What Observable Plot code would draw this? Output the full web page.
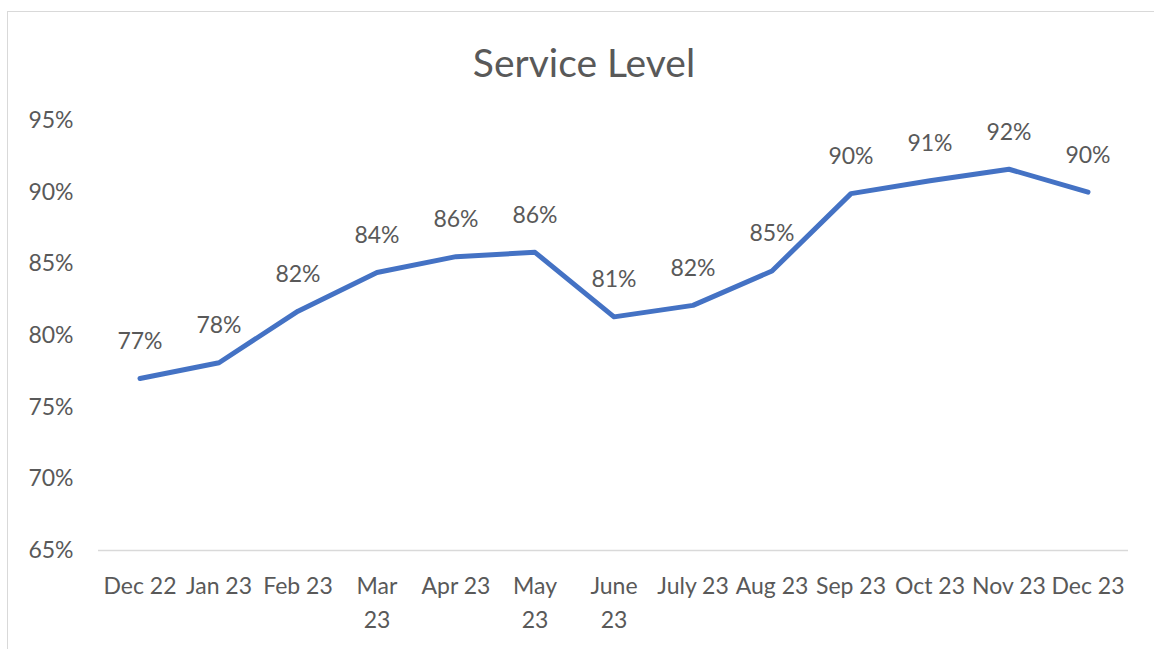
<!DOCTYPE html>
<html>
<head>
<meta charset="utf-8">
<script src="https://cdn.jsdelivr.net/npm/d3@7"></script>
<script src="https://cdn.jsdelivr.net/npm/@observablehq/plot@0.6"></script>
<style>
  html, body { margin: 0; padding: 0; background: #fff; }
  #wrap { position: relative; width: 1154px; height: 649px; overflow: hidden; font-family: Lato, "Open Sans", sans-serif; }
  #border { position: absolute; left: 7px; top: 11px; width: 1160px; height: 660px; border: 1.5px solid #d9d9d9; box-sizing: border-box; }
  #title { position: absolute; left: 0; top: 36px; width: 1168px; text-align: center; font-size: 39px; color: #595959; line-height: 52px; }
  #chart { position: absolute; left: 0; top: 100px; }
</style>
</head>
<body>
<div id="wrap">
  <div id="border"></div>
  <div id="title">Service Level</div>
  <div id="chart"></div>
</div>
<script>
const months = ["Dec 22","Jan 23","Feb 23","Mar 23","Apr 23","May 23","June 23","July 23","Aug 23","Sep 23","Oct 23","Nov 23","Dec 23"];
const tickLabels = ["Dec 22","Jan 23","Feb 23","Mar\n23","Apr 23","May\n23","June\n23","July 23","Aug 23","Sep 23","Oct 23","Nov 23","Dec 23"];
const serviceLevel = [0.770, 0.781, 0.817, 0.844, 0.855, 0.858, 0.813, 0.821, 0.845, 0.899, 0.908, 0.916, 0.900];
const yTicks = [0.65, 0.70, 0.75, 0.80, 0.85, 0.90, 0.95];

const data = months.map((m, i) => ({month: m, value: serviceLevel[i]}));
const labelOf = new Map(months.map((m, i) => [m, tickLabels[i]]));

const chart = Plot.plot({
  width: 1154,
  height: 545,
  marginLeft: 98,
  marginRight: 26,
  marginTop: 20,
  marginBottom: 95,
  style: {fontFamily: "Lato, 'Open Sans', sans-serif", color: "#595959", background: "transparent"},
  x: {type: "band", domain: months, padding: 0, label: null},
  y: {domain: [0.65, 0.95], label: null},
  marks: [
    Plot.ruleY([0.65], {stroke: "#d9d9d9", strokeWidth: 1.5}),
    Plot.axisY({ticks: yTicks, tickFormat: d3.format(".0%"), tickSize: 0, tickPadding: 0, dx: -25, fontSize: 23, fill: "#595959", textAnchor: "end", label: null}),
    Plot.axisX({tickFormat: d => labelOf.get(d), tickSize: 0, tickPadding: 19, fontSize: 23, lineHeight: 1.5, fill: "#595959", label: null}),
    Plot.line(data, {x: "month", y: "value", stroke: "#4472C4", strokeWidth: 5, strokeLinejoin: "round", strokeLinecap: "round"}),
    Plot.text(data, {x: "month", y: "value", text: d => d3.format(".0%")(d.value), dy: -37, fontSize: 23, fill: "#595959"})
  ]
});
document.getElementById("chart").appendChild(chart);
</script>
</body>
</html>
